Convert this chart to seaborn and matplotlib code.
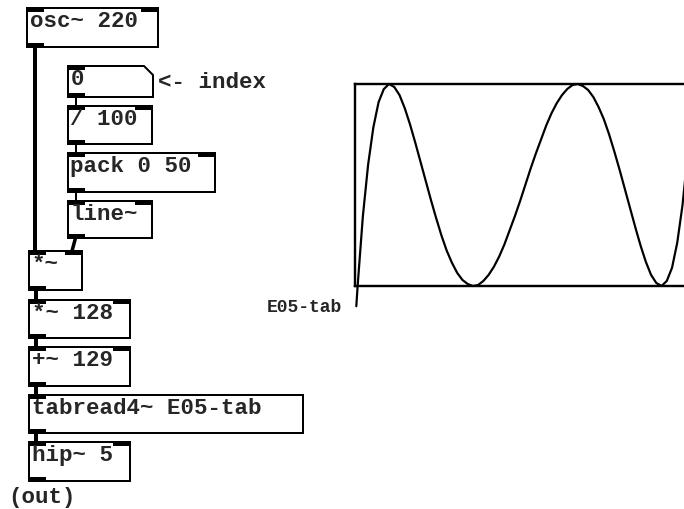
import matplotlib
matplotlib.use("Agg")
import matplotlib.pyplot as plt
from matplotlib.patches import Rectangle, Polygon
import seaborn as sns
import pandas as pd

# ---- data: contents of the table E05-tab (index -> value) ----
table_index = [0, 1, 5, 9, 13, 17, 21, 25, 29, 33, 37, 41, 45, 49, 53, 57, 61, 65,
               69, 73, 77, 81, 85, 89, 93, 97, 101, 105, 109, 113, 117, 121, 125,
               129, 133, 137, 141, 145, 149, 153, 157, 161, 165, 169, 173, 177,
               181, 185, 189, 193, 197, 201, 205, 209, 213, 217, 221, 225, 229,
               233, 237, 241, 245, 249, 253, 257, 258]
table_values = [-1.20, -1.00, -0.31, 0.20, 0.57, 0.82, 0.95, 1.00, 0.97, 0.89,
                0.76, 0.60, 0.42, 0.23, 0.04, -0.15, -0.33, -0.50, -0.65, -0.77,
                -0.87, -0.94, -0.98, -1.00, -0.99, -0.95, -0.89, -0.81, -0.71,
                -0.59, -0.45, -0.31, -0.16, 0.00, 0.16, 0.31, 0.45, 0.59, 0.71,
                0.81, 0.89, 0.95, 0.99, 1.00, 0.98, 0.94, 0.87, 0.77, 0.65, 0.50,
                0.33, 0.15, -0.04, -0.23, -0.42, -0.60, -0.76, -0.89, -0.97,
                -1.00, -0.95, -0.82, -0.57, -0.20, 0.31, 1.00, 1.20]
table_name = "E05-tab"

# ---- patch texts ----
object_texts = ["osc~ 220", "/ 100", "pack 0 50", "line~", "*~", "*~ 128",
                "+~ 129", "tabread4~ E05-tab", "hip~ 5"]
number_text = "0"
comments = ["<- index", "(out)"]

# ---- layout (pixels, origin top-left) ----
W, H = 684, 510
obj_boxes = [(27, 9, 158, 48), (68, 107, 152, 145), (68, 154, 215, 193),
             (68, 202, 152, 239), (29, 252, 82, 291), (29, 301, 130, 339),
             (29, 348, 130, 387), (29, 396, 303, 434), (29, 443, 130, 482)]
two_inlets = [True, True, True, True, True, True, True, False, True]
num_box = (68, 67, 153, 98)
comment_pos = [(158, 88), (8, 503)]

sns.set_style("white")
plt.rcParams['font.family'] = ['Liberation Mono', 'DejaVu Sans Mono']

fig = plt.figure(figsize=(W / 100, H / 100), dpi=100)
fig.patch.set_facecolor("white")
ax0 = fig.add_axes([0, 0, 1, 1])
ax0.set_xlim(0, W)
ax0.set_ylim(H, 0)
ax0.axis("off")

PX = 0.72  # points per pixel
FS = 16.2
border_lw = 2.0 * PX
TAB_W, TAB_H = 17, 4


def tab(x, y):
    ax0.add_patch(Rectangle((x, y), TAB_W, TAB_H, color="black", lw=0))


for (x0, y0, x1, y1), txt, two in zip(obj_boxes, object_texts, two_inlets):
    ax0.add_patch(Rectangle((x0, y0), x1 - x0, y1 - y0, fill=False,
                            ec="black", lw=border_lw))
    tab(x0, y0)
    if two:
        tab(x1 - TAB_W, y0)
    tab(x0, y1 - TAB_H)
    ax0.text(x0 + 2.5, y0 + 18, txt, fontsize=FS, fontweight="bold",
             va="baseline", ha="left")

# number box with cut corner
x0, y0, x1, y1 = num_box
ax0.add_patch(Polygon([(x0, y0), (x1 - 9, y0), (x1, y0 + 9), (x1, y1), (x0, y1)],
                      closed=True, fill=False, ec="black", lw=border_lw))
tab(x0, y0)
tab(x0, y1 - TAB_H)
ax0.text(x0 + 2.5, y0 + 18, number_text, fontsize=FS, fontweight="bold",
         va="baseline", ha="left")

for (cx, cy), txt in zip(comment_pos, comments):
    ax0.text(cx, cy, txt, fontsize=FS, fontweight="bold", va="baseline", ha="left")

# connections
sig_lw = 4 * PX
ctl_lw = 2 * PX
ax0.plot([35, 35], [48, 252], color="black", lw=sig_lw, solid_capstyle="butt")
for ya, yb in [(98, 107), (145, 154), (193, 202)]:
    ax0.plot([75.5, 75.5], [ya, yb], color="black", lw=ctl_lw, solid_capstyle="butt")
ax0.plot([75.5, 72], [239, 252], color="black", lw=3.5 * PX, solid_capstyle="butt")
for ya, yb in [(291, 301), (339, 348), (387, 396), (434, 443)]:
    ax0.plot([36, 36], [ya, yb], color="black", lw=sig_lw, solid_capstyle="butt")

# graph (array) -- extends beyond the right edge like the reference
gx0, gx1, gy0, gy1 = 355, 695.6, 85, 287
ax = fig.add_axes([gx0 / W, 1 - gy1 / H, (gx1 - gx0) / W, (gy1 - gy0) / H])
df = pd.DataFrame({"index": table_index, "value": table_values})
sns.lineplot(data=df, x="index", y="value", ax=ax, color="black",
             lw=2.2 * PX, clip_on=False, legend=False)
ax.set_xlim(-1, 259)
ax.set_ylim(-1, 1)
ax.set_xticks([])
ax.set_yticks([])
ax.set_xlabel("")
ax.set_ylabel("")
ax.set_facecolor("none")
for s in ax.spines.values():
    s.set_visible(True)
    s.set_color("black")
    s.set_linewidth(2.4 * PX)

ax0.text(267, 312, table_name, fontsize=13, fontweight="bold",
         va="baseline", ha="left")

fig.savefig("out.png", dpi=100)
